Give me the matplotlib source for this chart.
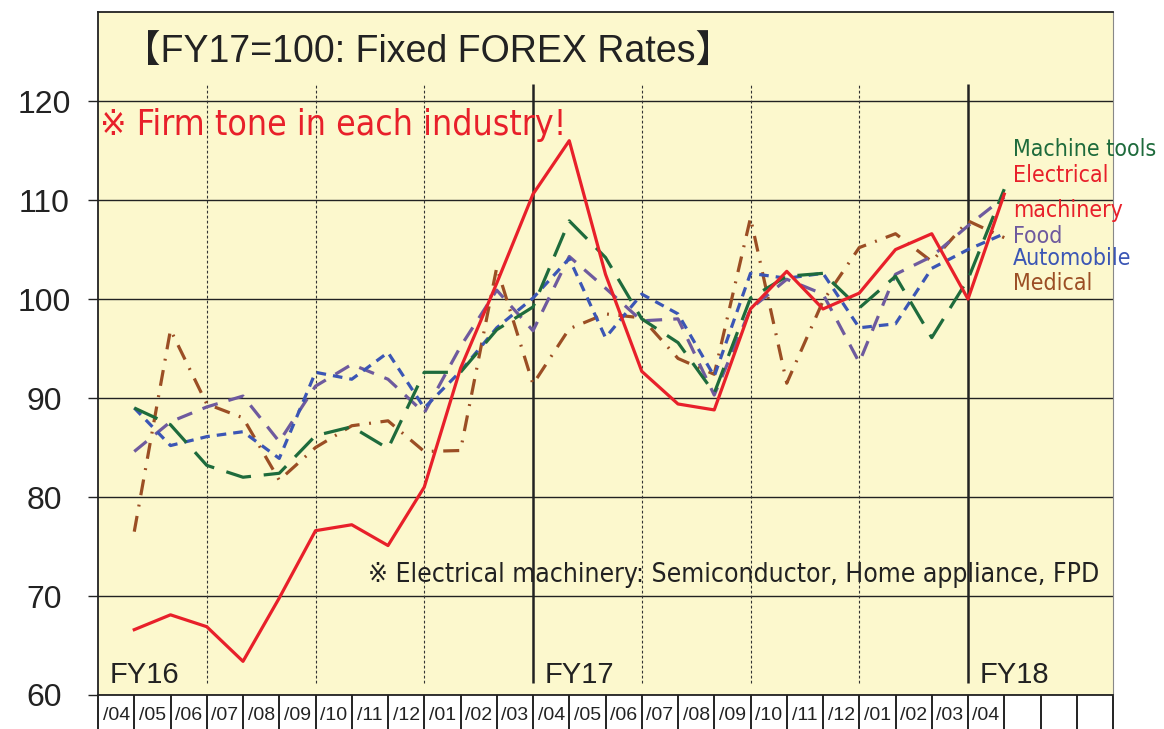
import matplotlib
matplotlib.use('Agg')
import matplotlib.pyplot as plt
import numpy as np

# 月次データ（FY16/04 ～ FY18/04）, FY17=100
months = ['/04', '/05', '/06', '/07', '/08', '/09', '/10', '/11', '/12', '/01', '/02', '/03',
          '/04', '/05', '/06', '/07', '/08', '/09', '/10', '/11', '/12', '/01', '/02', '/03',
          '/04', '', '', '']

electrical = [66.6, 68.1, 66.9, 63.4, 69.8, 76.6, 77.2, 75.1, 81.0, 93.0, 101.6, 110.6,
              116.0, 102.5, 92.7, 89.4, 88.8, 99.0, 102.8, 99.0, 100.6, 105.0, 106.6, 100.0, 110.6]
machine_tools = [89.0, 87.3, 83.2, 82.0, 82.4, 86.2, 87.1, 84.9, 92.6, 92.6, 96.9, 99.2,
                 107.9, 104.2, 98.0, 95.6, 90.5, 100.1, 102.3, 102.6, 99.1, 102.3, 96.1, 102.0, 111.1]
food = [84.6, 87.6, 89.1, 90.2, 85.6, 91.2, 93.4, 91.9, 88.5, 95.2, 100.9, 96.8,
        104.3, 101.1, 97.8, 98.0, 90.3, 99.0, 102.0, 100.5, 93.6, 102.5, 104.3, 107.4, 110.3]
automobile = [89.0, 85.2, 86.1, 86.6, 83.9, 92.6, 91.9, 94.6, 89.0, 92.7, 97.1, 100.1,
              104.1, 96.1, 100.5, 98.5, 92.2, 102.6, 102.1, 102.6, 97.1, 97.5, 103.1, 105.0, 106.6]
medical = [76.5, 96.9, 89.4, 88.0, 81.7, 85.0, 87.2, 87.7, 84.6, 84.7, 103.2, 91.4,
           97.0, 98.5, 98.1, 94.0, 92.4, 108.2, 91.5, 99.8, 105.2, 106.6, 103.8, 107.9, 106.2]

fy_labels = ['FY16', 'FY17', 'FY18']
fy_start = [0, 12, 24]

RED = '#E8202A'
GREEN = '#1E6B3C'
PURPLE = '#6E5A9E'
BLUE = '#3B56B5'
BROWN = '#9B4E24'

NARROW = ['Liberation Sans Narrow', 'DejaVu Sans', 'Noto Sans CJK JP']
plt.rcParams['font.family'] = ['Liberation Sans', 'DejaVu Sans', 'Noto Sans CJK JP']

fig = plt.figure(figsize=(11.64, 7.29), dpi=100)
ax = fig.add_axes([98 / 1164, 34 / 729, 1015 / 1164, 683 / 729])
ax.set_facecolor('#FCF8CD')


# 文字列の幅をピクセルで合わせる
def fit_width(t, target):
    r = fig.canvas.get_renderer()
    w = t.get_window_extent(r).width
    t.set_fontsize(t.get_fontsize() * target / w)
    return t.get_fontsize()


x = np.arange(1, len(electrical) + 1)
lw = 2.3
ax.plot(x, medical, color=BROWN, lw=lw, dashes=(5, 3, 0.6, 3), zorder=3)
ax.plot(x, food, color=PURPLE, lw=lw, dashes=(5, 3.5), zorder=3)
ax.plot(x, automobile, color=BLUE, lw=lw, dashes=(3, 2.2), zorder=3)
ax.plot(x, machine_tools, color=GREEN, lw=lw, dashes=(8, 4), zorder=3)
ax.plot(x, electrical, color=RED, lw=lw, zorder=4)

ax.set_xlim(0, 28)
ax.set_ylim(60, 129)

# 横の目盛線
ax.set_yticks(np.arange(60, 121, 10))
ax.yaxis.grid(True, color='#222222', lw=1.0)
ax.set_axisbelow(True)
ax.tick_params(axis='y', direction='out', length=7, width=1, labelsize=23, pad=31.5,
               colors='#222222')
for lab in ax.get_yticklabels():
    lab.set_horizontalalignment('center')

# 縦の区切り線
for k in [3, 6, 9, 15, 18, 21]:
    ax.vlines(k, 61.2, 121.7, color='#333333', lw=0.8, linestyles=(0, (2.5, 2)), zorder=2)
for k in [12, 24]:
    ax.vlines(k, 61.2, 121.7, color='#222222', lw=1.8, zorder=2)

# 下の月ラベル表
ax.set_xticks(np.arange(0, 29))
ax.set_xticklabels([])
ax.tick_params(axis='x', which='major', direction='out', length=25, width=1.3, colors='#111111')
ax.set_xticks(np.arange(0.5, 28, 1), minor=True)
ax.set_xticklabels(months, minor=True, fontsize=14)
ax.tick_params(axis='x', which='minor', length=0, pad=9, labelcolor='#222222')

for sp in ['left', 'top', 'bottom']:
    ax.spines[sp].set_color('#222222')
    ax.spines[sp].set_linewidth(1.3)
ax.spines['right'].set_color('#888888')

# テキスト
t = ax.text(0.025, 0.940, '【FY17=100: Fixed FOREX Rates】', transform=ax.transAxes,
            fontsize=27, color='#222222', va='center', ha='left')
t = ax.text(0.002, 0.835, '※ Firm tone in each industry!', transform=ax.transAxes,
            fontsize=30, color=RED, va='center', ha='left', family=NARROW,
            fontstretch='condensed')
fit_width(t, 465)
t = ax.text(0.266, 0.176, '※ Electrical machinery: Semiconductor, Home appliance, FPD',
            transform=ax.transAxes, fontsize=21, color='#222222', va='center', ha='left',
            family=NARROW, fontstretch='condensed')
fit_width(t, 733)

for lab, k in zip(fy_labels, fy_start):
    ax.text(k + 0.33, 61.2, lab, fontsize=21, color='#222222', va='baseline', ha='left')

leg_y = [0.798, 0.760, 0.709, 0.672, 0.639, 0.602]
leg_txt = ['Machine tools', 'Electrical', 'machinery', 'Food', 'Automobile', 'Medical']
leg_col = [GREEN, RED, RED, PURPLE, BLUE, BROWN]
leg_size = None
for ty, tt, tc in zip(leg_y, leg_txt, leg_col):
    t = ax.text(0.9015, ty, tt, transform=ax.transAxes, fontsize=18, color=tc,
                va='center', ha='left', family=NARROW, fontstretch='condensed',
                clip_on=False)
    if leg_size is None:
        leg_size = fit_width(t, 143)
    else:
        t.set_fontsize(leg_size)

fig.savefig('out.png', dpi=100)
